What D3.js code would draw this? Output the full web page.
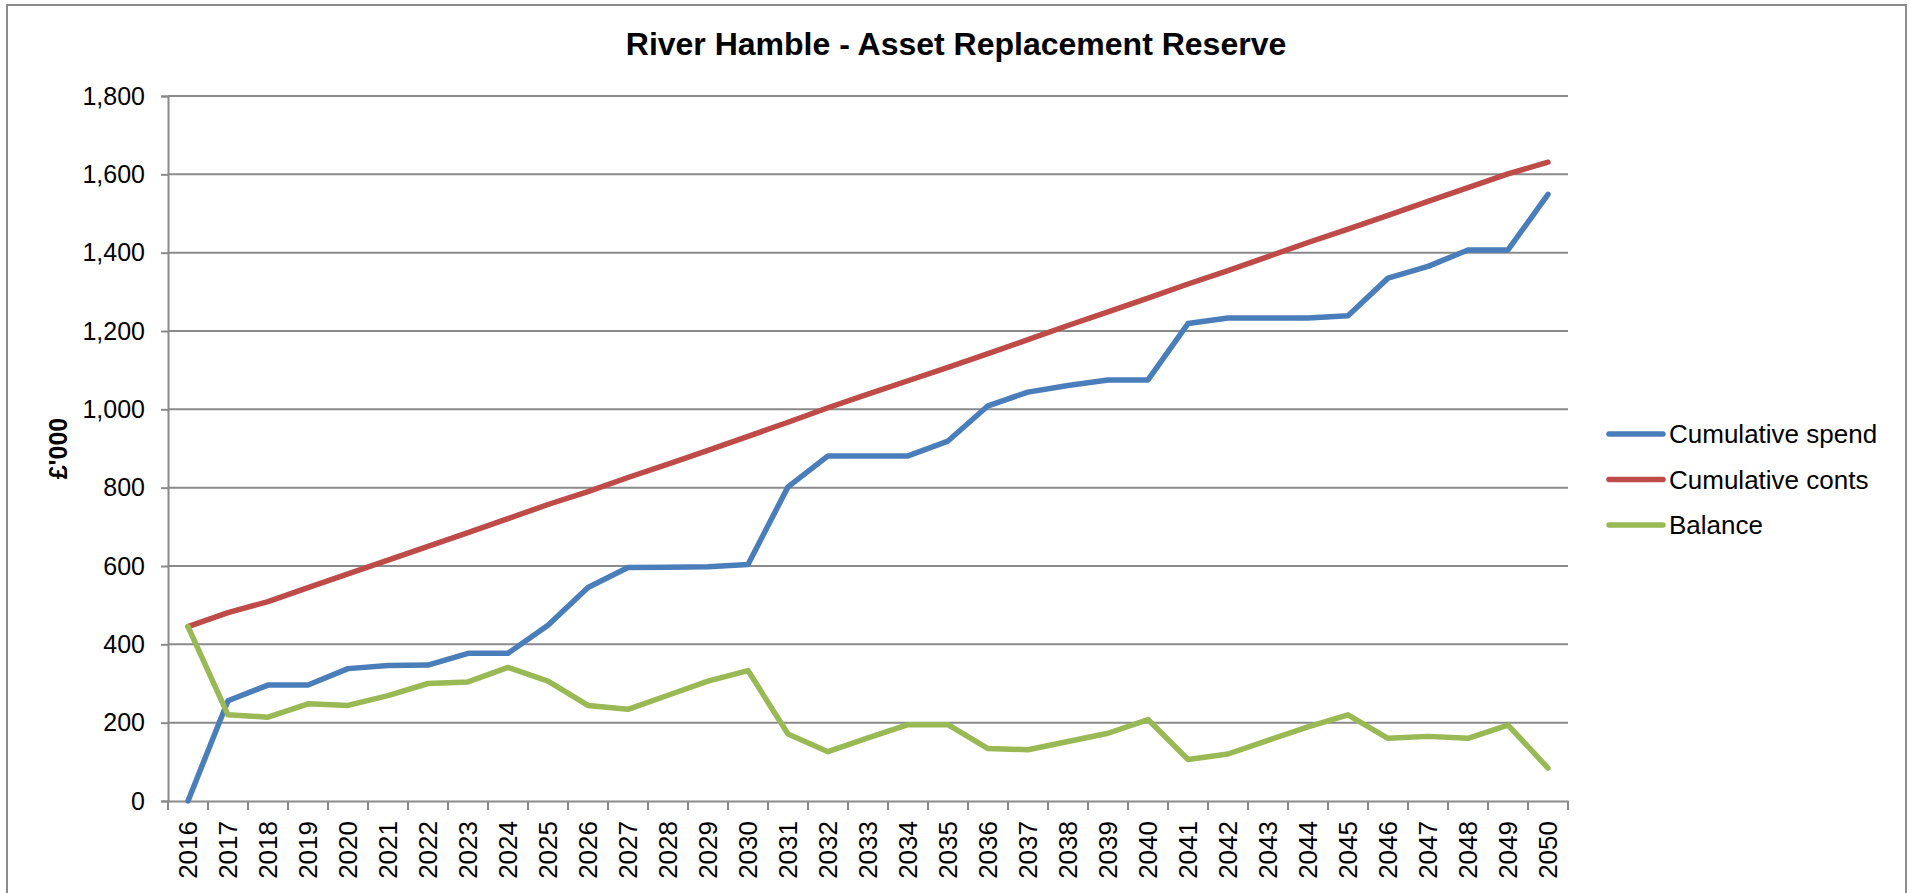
<!DOCTYPE html>
<html>
<head>
<meta charset="utf-8">
<script src="https://cdn.jsdelivr.net/npm/d3@7"></script>
<style>
  body { margin: 0; background: #fff; }
  text { font-family: "Liberation Sans", Arial, sans-serif; fill: #000; }
</style>
</head>
<body>
<div id="chart"></div>
<script>
// values, £'000
const years = d3.range(2016, 2051).map(String);
const cumulativeSpend = [0, 256, 296, 296, 338, 346, 347, 377, 377, 449, 545, 596, 597, 598, 604, 802, 881, 881, 881, 919,
                         1009, 1044, 1061, 1075, 1075, 1219, 1233, 1233, 1233, 1239, 1335, 1365, 1407, 1407, 1549];
const cumulativeConts = [445, 481, 509, 545, 580, 615, 650, 685, 721, 757, 790, 826, 860, 895, 931, 967, 1004, 1039, 1073, 1107,
                         1142, 1178, 1214, 1249, 1284, 1320, 1354, 1390, 1426, 1460, 1495, 1531, 1566, 1601, 1631];
const balance = [445, 220, 214, 248, 244, 269, 300, 304, 341, 306, 244, 234, 270, 306, 333, 171, 126, 161, 195, 195,
                 134, 131, 152, 173, 208, 106, 120, 155, 189, 220, 160, 165, 160, 194, 84];
const seriesNames = ["Cumulative spend", "Cumulative conts", "Balance"];
const seriesColors = ["#4a7ebb", "#be4b48", "#98b954"];
const yTicks = [0, 200, 400, 600, 800, 1000, 1200, 1400, 1600, 1800];

const W = 1910, H = 893;
const margin = {top: 96, left: 168},
      width = 1400,
      height = 705,
      gridColor = "#8a8a8a";

const svg = d3.select("#chart").append("svg")
    .attr("width", W)
    .attr("height", H);

// chart border (runs off the bottom of the picture)
svg.append("rect")
    .attr("x", 7).attr("y", 5)
    .attr("width", 1899).attr("height", 920)
    .attr("fill", "none")
    .attr("stroke", "#8c8c8c")
    .attr("stroke-width", 2);

svg.append("text")
    .attr("x", 956).attr("y", 55)
    .attr("text-anchor", "middle")
    .style("font-size", "32px")
    .style("font-weight", "bold")
    .text("River Hamble - Asset Replacement Reserve");

const g = svg.append("g")
    .attr("transform", "translate(" + margin.left + "," + margin.top + ")");

const x = d3.scaleBand().domain(years).range([0, width]).padding(0);
const y = d3.scaleLinear().domain([0, 1800]).range([height, 0]);

// gridlines
g.selectAll(".grid")
    .data(yTicks.filter(d => d > 0))
    .enter().append("line")
    .attr("class", "grid")
    .attr("x1", 0).attr("x2", width)
    .attr("y1", d => y(d)).attr("y2", d => y(d))
    .attr("stroke", gridColor)
    .attr("stroke-width", 2);

// y axis
const yAxis = g.append("g")
    .call(d3.axisLeft(y).tickValues(yTicks).tickFormat(d3.format(",")).tickSize(7).tickPadding(16));
yAxis.select(".domain").attr("stroke", gridColor).attr("stroke-width", 2);
yAxis.selectAll(".tick line").attr("stroke", gridColor).attr("stroke-width", 2);
yAxis.selectAll(".tick text").style("font-size", "25px");

// x axis: labels at category centres, ticks on category boundaries
const xAxis = g.append("g")
    .attr("transform", "translate(0," + height + ")")
    .call(d3.axisBottom(x).tickSize(0));
xAxis.select(".domain").attr("stroke", gridColor).attr("stroke-width", 2);
xAxis.selectAll(".tick text")
    .attr("transform", "rotate(-90)")
    .attr("x", -20)
    .attr("y", 0)
    .attr("dy", "0.35em")
    .style("text-anchor", "end")
    .style("font-size", "26px");
xAxis.selectAll(".bound")
    .data(d3.range(years.length + 1))
    .enter().append("line")
    .attr("class", "bound")
    .attr("x1", i => i * x.step()).attr("x2", i => i * x.step())
    .attr("y1", 0).attr("y2", 9)
    .attr("stroke", gridColor)
    .attr("stroke-width", 2);

// y title
svg.append("text")
    .attr("transform", "translate(67," + (margin.top + height / 2) + ") rotate(-90)")
    .attr("text-anchor", "middle")
    .style("font-size", "25px")
    .style("font-weight", "bold")
    .text("£'000");

// lines
const series = [cumulativeSpend, cumulativeConts, balance];
const line = d3.line()
    .x((d, i) => x(years[i]) + x.bandwidth() / 2)
    .y(d => y(d));

g.selectAll(".series")
    .data(series)
    .enter().append("path")
    .attr("class", "series")
    .attr("d", d => line(d))
    .attr("fill", "none")
    .attr("stroke", (d, i) => seriesColors[i])
    .attr("stroke-width", 5.5)
    .attr("stroke-linejoin", "round")
    .attr("stroke-linecap", "round");

// legend
const legend = svg.selectAll(".legend")
    .data(seriesNames)
    .enter().append("g")
    .attr("class", "legend")
    .attr("transform", (d, i) => "translate(1609," + (434 + i * 45.5) + ")");
legend.append("line")
    .attr("x1", 0).attr("x2", 54)
    .attr("stroke", (d, i) => seriesColors[i])
    .attr("stroke-width", 5.5)
    .attr("stroke-linecap", "round");
legend.append("text")
    .attr("x", 60)
    .attr("dy", "0.35em")
    .style("font-size", "26px")
    .text(d => d);
</script>
</body>
</html>
